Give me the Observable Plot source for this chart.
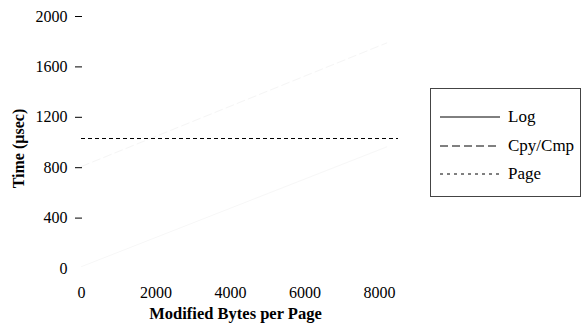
<!DOCTYPE html>
<html>
<head>
<meta charset="utf-8">
<script src="https://cdn.jsdelivr.net/npm/d3@7"></script>
<script src="https://cdn.jsdelivr.net/npm/@observablehq/plot@0.6"></script>
<style>
  html, body { margin: 0; padding: 0; background: #fff; }
  #chart { position: relative; width: 582px; height: 326px; font-family: "Liberation Serif", "Times New Roman", serif; }
  #legend {
    position: absolute; left: 430px; top: 88px; width: 151px; height: 109px;
    border: 1px solid #444; background: #fff; box-sizing: border-box;
  }
  #legend .row { position: absolute; left: 9px; height: 20px; display: flex; align-items: center; }
  #legend .row span { margin-left: 8px; font-size: 17px; color: #000; }
</style>
</head>
<body>
<div id="chart"><div id="legend"></div></div>
<script>
// Modified bytes per page (x) against time in microseconds (y)
const logX = [0, 8192];
const logY = [15, 965];
const cpyX = [0, 8192];
const cpyY = [810, 1790];
const pageX = [0, 8500];
const pageY = [1035, 1035];

const xTicks = [0, 2000, 4000, 6000, 8000];
const yTicks = [400, 800, 1200, 1600, 2000];
const yZeroTick = [0];

const seriesNames = ["Log", "Cpy/Cmp", "Page"];
const seriesDash = [null, "8,4", "3,4"];

const toRows = (xs, ys) => xs.map((x, i) => ({x, y: ys[i]}));
const plain = d3.format("d");

const plot = Plot.plot({
  width: 582,
  height: 326,
  marginLeft: 82,
  marginRight: 194,
  marginTop: 16,
  marginBottom: 46,
  style: {fontFamily: "'Liberation Serif', 'Times New Roman', serif", fontSize: "16px", background: "#fff", color: "#000"},
  x: {domain: [0, 8000], range: [81, 379]},
  y: {domain: [0, 2000], range: [268, 16]},
  marks: [
    Plot.axisY({ticks: yTicks, tickFormat: plain, tickSize: 7, tickPadding: 8, label: null}),
    Plot.axisY({ticks: yZeroTick, tickFormat: plain, tickSize: 0, tickPadding: 15, label: null}),
    Plot.axisX({ticks: xTicks, tickFormat: plain, tickSize: 0, tickPadding: 6, label: null}),
    Plot.line(toRows(logX, logY), {x: "x", y: "y", stroke: "#f7f7f7", strokeWidth: 1}),
    Plot.line(toRows(cpyX, cpyY), {x: "x", y: "y", stroke: "#f5f5f5", strokeWidth: 1, strokeDasharray: seriesDash[1]}),
    Plot.line(toRows(pageX, pageY), {x: "x", y: "y", stroke: "#000", strokeWidth: 1, strokeDasharray: seriesDash[2], shapeRendering: "crispEdges"}),
    Plot.text(["Modified Bytes per Page"], {frameAnchor: "bottom", dy: 38, fontWeight: "bold", fontSize: 16.5}),
    Plot.text(["Time (\u00b5sec)"], {frameAnchor: "left", textAnchor: "middle", dx: -64, dy: 0, rotate: -90, fontWeight: "bold", fontSize: 16})
  ]
});
document.getElementById("chart").prepend(plot);

// Legend: one sample line and a name per series
const legend = document.getElementById("legend");
seriesNames.forEach((name, i) => {
  const row = document.createElement("div");
  row.className = "row";
  row.style.top = (18 + i * 28.5) + "px";
  const svg = d3.create("svg").attr("width", 60).attr("height", 10);
  svg.append("line").attr("x1", 0).attr("x2", 60).attr("y1", 5).attr("y2", 5)
    .attr("stroke", "#000").attr("stroke-width", 1)
    .attr("stroke-dasharray", seriesDash[i]);
  row.appendChild(svg.node());
  const label = document.createElement("span");
  label.textContent = name;
  row.appendChild(label);
  legend.appendChild(row);
});
</script>
</body>
</html>
